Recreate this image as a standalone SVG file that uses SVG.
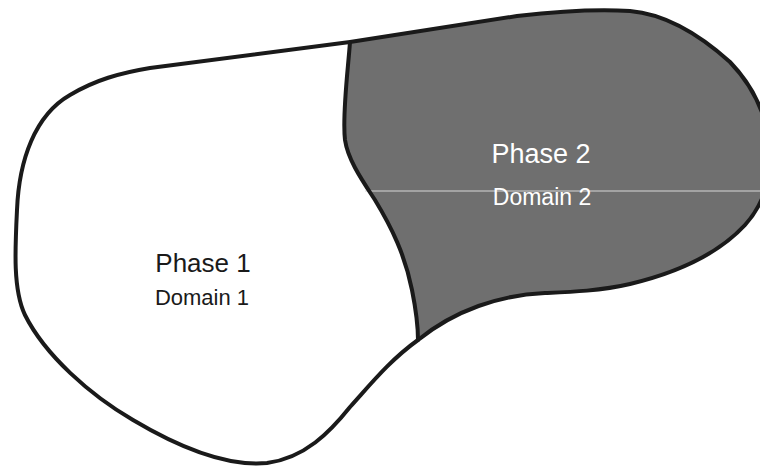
<svg xmlns="http://www.w3.org/2000/svg" width="760" height="466" viewBox="0 0 760 466">
  <style>
    .outline { fill: none; stroke: #1a1a1a; stroke-width: 4; stroke-linejoin: round; stroke-linecap: round; }
    .label { font-family: "Liberation Sans", Arial, sans-serif; text-anchor: middle; }
    .phase { font-size: 26px; }
    .domain { font-size: 22px; }
    .big.phase { font-size: 27px; }
    .big.domain { font-size: 23px; }
    .dark { fill: #ffffff; }
    .light { fill: #1a1a1a; }
  </style>

  <rect width="760" height="466" fill="#ffffff"/>

  <!-- Phase 1: whole body in white, Phase 2 is painted over it -->
  <g id="phase1">
    <path fill="#ffffff" d="M 350 42 L 517 16 C 560 11, 600 9, 630 11 C 665 14, 700 35, 730 62 C 755 88, 768 118, 770 152 C 771 180, 763 205, 745 225 C 720 252, 680 272, 630 284 C 600 291, 570 292, 545 293 C 500 295, 455 310, 418 340 C 390 360, 370 385, 350 407 C 330 432, 305 458, 267 463 C 225 467, 175 445, 133 420 C 90 395, 45 355, 25 315 C 13 290, 15 250, 17 210 C 19 160, 35 115, 70 95 C 95 80, 120 73, 150 68 Z"/>
    <text class="label phase light" x="203" y="272">Phase 1</text>
    <text class="label domain light" x="202" y="305">Domain 1</text>
  </g>

  <!-- Phase 2: grey domain bounded by the outer edge and the interface -->
  <g id="phase2">
    <path fill="#6f6f6f" d="M 350 42 L 517 16 C 560 11, 600 9, 630 11 C 665 14, 700 35, 730 62 C 755 88, 768 118, 770 152 C 771 180, 763 205, 745 225 C 720 252, 680 272, 630 284 C 600 291, 570 292, 545 293 C 500 295, 455 310, 418 340 C 418 325, 416 310, 412 290 C 405 255, 392 228, 375 200 C 362 180, 348 160, 345 140 C 342 115, 348 70, 350 42 Z"/>
    <line x1="365" y1="191" x2="760" y2="191" stroke="#d8d8d8" stroke-width="1"/>
    <text class="label big phase dark" x="541" y="163">Phase 2</text>
    <text class="label big domain dark" x="542" y="205">Domain 2</text>
  </g>

  <!-- outer boundary and phase interface -->
  <g id="boundaries">
    <path class="outline" d="M 350 42 L 517 16 C 560 11, 600 9, 630 11 C 665 14, 700 35, 730 62 C 755 88, 768 118, 770 152 C 771 180, 763 205, 745 225 C 720 252, 680 272, 630 284 C 600 291, 570 292, 545 293 C 500 295, 455 310, 418 340 C 390 360, 370 385, 350 407 C 330 432, 305 458, 267 463 C 225 467, 175 445, 133 420 C 90 395, 45 355, 25 315 C 13 290, 15 250, 17 210 C 19 160, 35 115, 70 95 C 95 80, 120 73, 150 68 Z"/>
    <path class="outline" d="M 350 42 C 348 70, 342 115, 345 140 C 348 160, 362 180, 375 200 C 392 228, 405 255, 412 290 C 416 310, 418 325, 418 340"/>
  </g>
</svg>
